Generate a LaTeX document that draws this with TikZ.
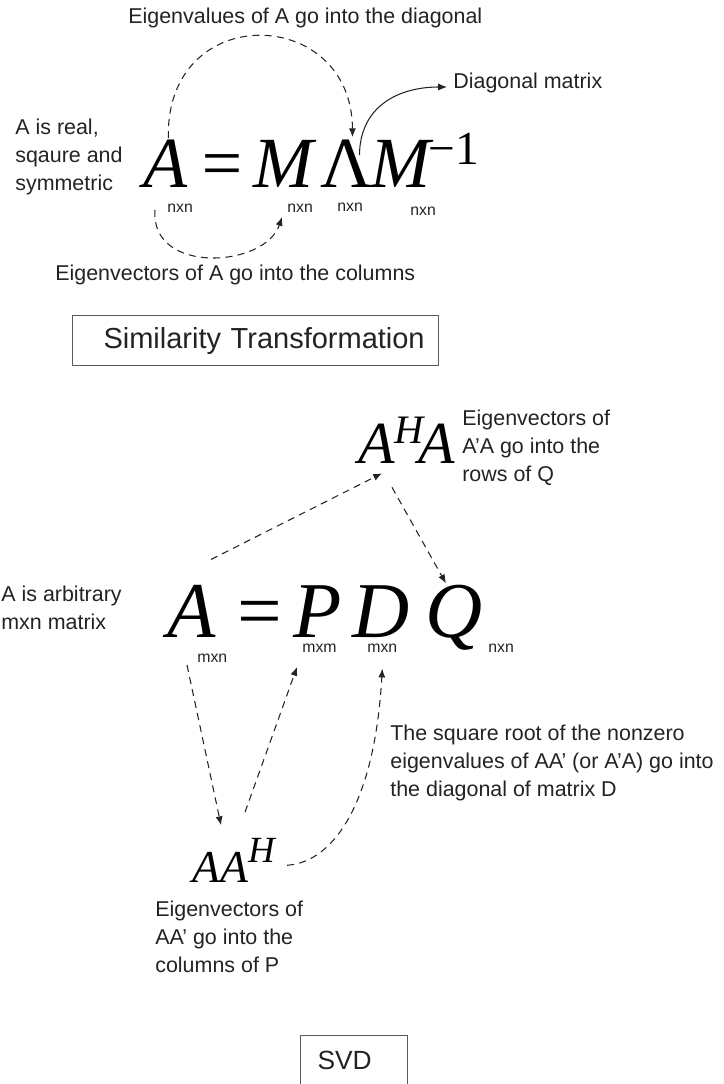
\documentclass[tikz,border=0pt]{standalone}
\usepackage{fontspec}
\setmainfont{Liberation Sans}
\newfontfamily\symfont{Liberation Serif}
\usetikzlibrary{arrows.meta,calc}
\definecolor{ink}{RGB}{35,35,35}
\definecolor{boxc}{RGB}{90,90,90}
\newcommand{\lblfont}{\fontsize{12.2}{16}\selectfont}
\newcommand{\idxfont}{\fontsize{9}{10}\selectfont}
\newcommand{\capfont}{\fontsize{16.5}{18}\selectfont}

\begin{document}
\begin{tikzpicture}[
    x=0.02cm, y=-0.02cm,
    sym/.style={inner sep=0pt, anchor=base west, font={\symfont\itshape\fontsize{#1}{#1}\selectfont}},
    symup/.style={inner sep=0pt, anchor=base west, font={\symfont\fontsize{#1}{#1}\selectfont}},
    lbl/.style={inner sep=0pt, anchor=west, align=left, text=ink, font=\lblfont},
    idx/.style={inner sep=0pt, anchor=west, text=ink, font=\idxfont},
    frame/.style={draw=boxc, line width=0.6pt, inner sep=0pt, anchor=north west, align=left, text=ink, font=\capfont},
    link/.style={draw=ink, line width=0.6pt, dash pattern=on 4pt off 3pt, -{Latex[length=5pt,width=4pt]}},
    plink/.style={draw=ink, line width=0.6pt, -{Latex[length=5pt,width=4pt]}},
  ]
  \useasboundingbox (0,0) rectangle (723,1084);

  %% ================= similarity transformation =================
  \node[lbl] (eigval) at (128,18) {Eigenvalues of A go into the diagonal};
  \node[lbl] (real) at (15,157) {A is real,\\sqaure and\\symmetric};
  \node[lbl] (diag) at (453,83) {Diagonal matrix};

  \foreach \nm/\x/\t in {tA/143/A, tEq/197/=, tM/253/M, tMi/370/M} {
    \node[sym=41] (\nm) at (\x,188) {\t};
  }
  \node[symup=41] (tLam) at (320,188) {Λ};
  \node[symup=27] (tExp) at (428,165) {−1};
  \foreach \nm/\x/\y in {tAs/167/208, tMs/287/208, tLs/337/207, tMis/410/211} {
    \node[idx] (\nm) at (\x,\y) {nxn};
  }

  \node[lbl] (eigvec) at (55,275) {Eigenvectors of A go into the columns};
  \node[frame, text width=7.32cm, minimum height=1cm] (simbox) at (72,315)
    {\hspace*{0.62cm}Similarity Transformation};

  % eigenvalues up and over into Lambda, eigenvectors down and under into M
  \draw[link] ($(tA.north)+(3,-2)$) .. controls (165,0) and (352,5) .. ($(tLam.north)+(6,-3)$);
  \draw[plink] ($(tLam.north)+(13,15)$) .. controls (360,105) and (400,87) .. ($(diag.west)+(-6,4)$);
  \draw[link] ($(tAs.west)+(-12,2)$) .. controls (150,275) and (265,268) .. ($(tMs.west)+(-5,9)$);

  %% ================= SVD =================
  \node[sym=34] (bAHA) at (358,463) {A\raisebox{11pt}{\fontsize{23}{23}\selectfont H}\kern-3ptA};
  \node[lbl] (rowsQ) at (462,448) {Eigenvectors of\\A'A go into the\\rows of Q};
  \node[lbl] (arb) at (1,608) {A is arbitrary\\mxn matrix};

  \foreach \nm/\x/\t in {bA/167/A, bEq/232/=, bP/293/P, bD/352/D, bQ/425/Q} {
    \node[sym=45] (\nm) at (\x,637) {\t};
  }
  \foreach \nm/\x/\y/\t in {bAs/197/658/mxn, bPs/302/648/mxm, bDs/367/648/mxn, bQs/488/648/nxn} {
    \node[idx] (\nm) at (\x,\y) {\t};
  }

  \node[sym=26] (bAAH) at (192,882) {AA\raisebox{11pt}{\fontsize{21}{21}\selectfont H}};
  \node[lbl] (colsP) at (155,937) {Eigenvectors of\\AA' go into the\\columns of P};
  \node[lbl] (sqroot) at (390,763)
    {The square root of the nonzero\\eigenvalues of AA' (or A'A) go into\\the diagonal of matrix D};
  \node[frame, text width=2.14cm, minimum height=1cm, font=\fontsize{15}{18}\selectfont] (svd) at (300,1035)
    {\hspace*{0.34cm}SVD};

  % A feeds both products, the products feed P, D and Q
  \draw[link] ($(bA.north east)+(-5,-25)$) -- ($(bAHA.south west)+(24,10)$);
  \draw[link] ($(bAHA.south west)+(34,24)$) -- ($(bQ.north)+(-8,-1)$);
  \draw[link] ($(bAs.west)+(-10,7)$) -- ($(bAAH.north west)+(29,-13)$);
  \draw[link] ($(bAAH.north west)+(53,-26)$) -- ($(bPs.west)+(-5,19)$);
  \draw[link] ($(bAAH.east)+(12,5)$) .. controls (335,862) and (375,800) .. ($(bDs.south)+(0,16)$);

\end{tikzpicture}
\end{document}
